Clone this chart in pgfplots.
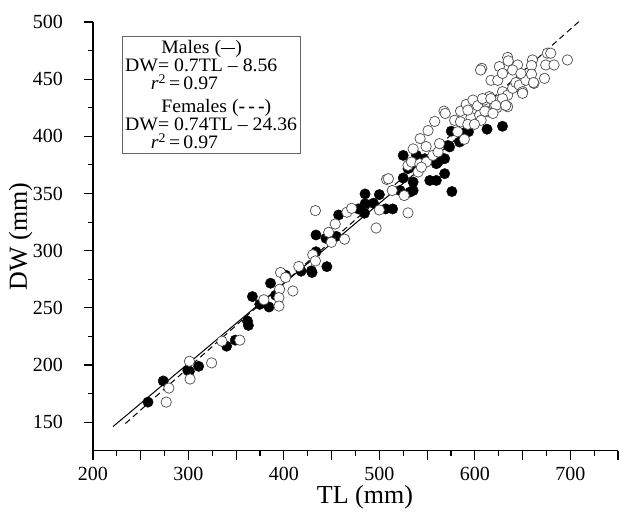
\documentclass[border=0pt]{standalone}
\usepackage{fontspec}
\setmainfont{Liberation Serif}
\newfontfamily\legfont[FakeStretch=1.04]{Liberation Serif}
\usepackage{pgfplots}
\pgfplotsset{compat=1.18}

% TL (mm), DW (mm)
\pgfplotstableread{
TL DW
257.6 167.5
273.6 186
299.3 195.3
301 194.4
310.7 198.8
340 216.4
349 221.7
361.8 238.4
362.8 234.6
374.7 253
367 259.8
384.4 250.7
386 271.5
391.3 261
401.8 278.5
418 282
428.8 282.3
429.5 280.9
445 286
433.6 299
433.6 313.7
444 310.8
454.9 312.5
457.3 331.2
478 336.5
485 341
484.4 332.7
485 349.6
493.8 341.5
500 349
506.6 336.5
513.9 336.5
525 383.3
525 363.5
521.6 352.6
532 351.2
535.4 352.6
552.8 361.4
559.7 361.4
568.4 367.3
576 351.7
538.9 383.3
535.4 360
539 371.7
532 376
530 371.7
559.7 376
568.4 380.4
561.5 377.5
547.5 380.4
563 382
575.3 404.5
573.6 390.7
571.9 392
584 395
591 404
593.4 404
612.8 406.2
629 408.8
}\males

\pgfplotstableread{
TL DW
276.7 167.5
279.5 179.8
301 203.2
301.7 187.7
324.3 201.8
335 220.8
353.8 221.7
379 257
396.5 280.9
401.7 276.5
395.5 266.2
394.8 258.9
394.8 251.5
409.4 264.7
415.6 286.2
430.2 296.4
433 291
433 335
446.9 316
453.8 323.3
449.7 307.3
463.5 310
466 333.6
471 337
500 335.6
496.6 319.8
507.6 362.3
509.4 362.9
513.5 352.6
526 348.2
530 333
530 374.6
533.7 377.5
542.4 376
549.3 377.5
540.6 368.8
544 373
556 383.3
561.5 386.3
535.4 389
542.7 398
551 405
558 413
549 391
567.7 422
569 420
578.8 414
585 422
585 412.7
596 416.5
591 427.9
592.7 422.9
598 431.7
603 426.8
610 431.7
615.3 434.7
605 418.5
606.6 414
613.5 421.5
620.5 426.8
623 425
625.7 431.7
629 439
634.4 436
634.4 425.9
639.6 442
643 447
646.6 444.8
650 439
653.5 449
662 446.3
617 449
624 449
592.7 410.5
589 397.4
563 393.6
582 404
599.6 410.5
607.3 459.5
606 458
634.4 469
635 466
625.7 461
644.8 462.4
629 455
639.6 458
648.3 455
660.4 466.8
676 472.7
679.5 472.7
674.3 462.4
683 462.4
697 466.8
673 450.7
659.4 462
659.4 454.3
661.5 447
650 437.6
608 433
616.7 433
629 433
622 427
632.4 427
610.5 422
619 420
}\females

\begin{document}
\begin{tikzpicture}
\begin{axis}[
  width=525pt, height=428.7pt, scale only axis,
  xmin=200, xmax=750, ymin=125, ymax=500,
  axis lines=left,
  axis line style={-, line width=1.4pt},
  xtick={200,250,...,750},
  xticklabels={200,,300,,400,,500,,600,,700,},
  ytick={150,200,...,500},
  minor x tick num=1, minor y tick num=1,
  tick align=outside,
  major tick length=9pt, minor tick length=5pt,
  every tick/.style={black, line width=1.1pt},
  ticklabel style={font=\fontsize{20}{20}\selectfont, inner sep=0pt},
  yticklabel style={anchor=east, xshift=-21pt},
  xticklabel style={anchor=north, yshift=-7pt},
  /pgf/number format/assume math mode=true,
  xlabel={TL (mm)}, ylabel={DW (mm)},
  label style={font=\fontsize{26}{26}\selectfont},
  xlabel style={at={(axis description cs:0.518,0)}, anchor=center, yshift=-47pt},
  ylabel style={at={(axis description cs:-0.138,0.5)}, anchor=center},
  clip=false,
]
\addplot[only marks, mark=*, mark size=5.2pt, mark options={draw=black, fill=black}] table[x=TL, y=DW] {\males};
\addplot[only marks, mark=*, mark size=5.2pt, mark options={draw=black!70, fill=white, line width=0.7pt}] table[x=TL, y=DW] {\females};
\addplot[black, line width=1pt] coordinates {(221,146.1) (663,455.5)};
\addplot[black, line width=1pt, dash pattern=on 6pt off 4pt] coordinates {(234,148.8) (709,500.3)};
\node[draw=black!60, line width=0.6pt, anchor=north west, inner xsep=3pt, inner ysep=4pt,
  align=left, font=\legfont\fontsize{19}{18}\selectfont]
  at (rel axis cs:0.055,0.967) {%
  \hspace*{1.9em}Males (\rule[0.22em]{0.75em}{1.8pt})\\
  DW= 0.7TL – 8.56\\
  \hspace*{1.35em}\textit{r}\textsuperscript{2}\,=\,0.97\\[5pt]
  \hspace*{1.9em}Females (\textbf{-\,-\,-})\\
  DW= 0.74TL – 24.36\\
  \hspace*{1.35em}\textit{r}\textsuperscript{2}\,=\,0.97};
\end{axis}
\path (current axis.south west) ++(-93pt,-61.3pt) rectangle ++(622pt,512pt);
\end{tikzpicture}
\end{document}
